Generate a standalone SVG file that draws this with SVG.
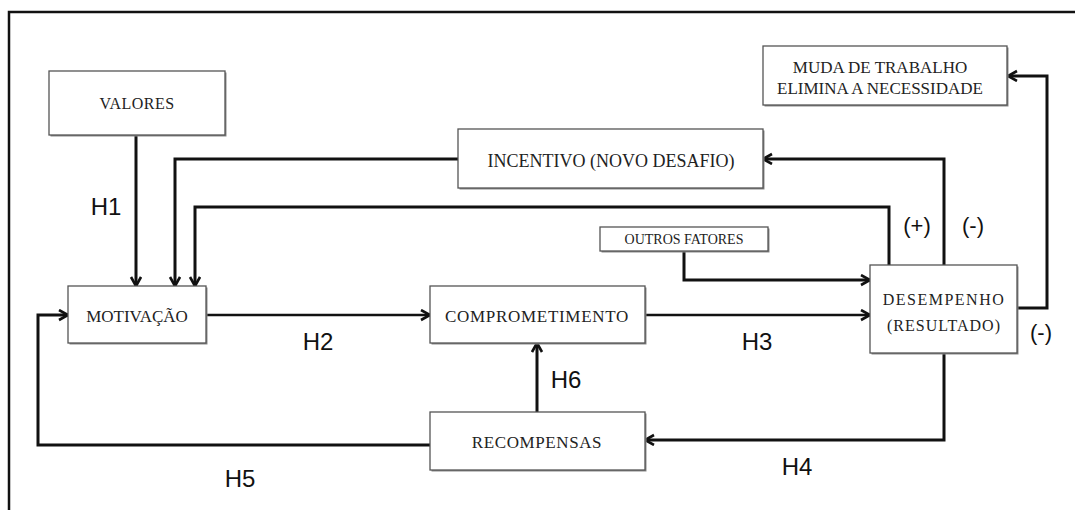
<svg xmlns="http://www.w3.org/2000/svg" width="1075" height="510" viewBox="0 0 1075 510">
  <style>
    .frame { fill: none; stroke: #111; stroke-width: 2.5; }
    .box { fill: #fff; stroke: #555; stroke-width: 1.3; }
    .shadow { fill: #8a8a8a; }
    .lbl { font-family: "Liberation Serif", "Times New Roman", serif; fill: #222; text-anchor: middle; }
    .hyp { font-family: "Liberation Sans", Arial, sans-serif; font-size: 24px; fill: #111; text-anchor: middle; }
    .sign { font-family: "Liberation Sans", Arial, sans-serif; font-size: 22px; fill: #111; text-anchor: middle; }
    .wire { fill: none; stroke: #111; stroke-width: 3; stroke-linejoin: miter; }
    .thin { stroke-width: 2.5; }
  </style>
  <defs>
    <marker id="arrow" markerUnits="userSpaceOnUse" markerWidth="14" markerHeight="14" refX="10" refY="6" orient="auto">
      <path d="M1,1 L10,6 L1,11" fill="none" stroke="#111" stroke-width="2.6"/>
    </marker>
  </defs>

  <rect width="1075" height="510" fill="#fff"/>

  <!-- outer frame (left and top edges) -->
  <path class="frame" d="M9,510 V12 H1075"/>

  <!-- connectors -->
  <g id="connectors">
    <path class="wire" d="M136,135 V286" marker-end="url(#arrow)"/>
    <path class="wire" d="M458,159 H175 V286" marker-end="url(#arrow)"/>
    <path class="wire" d="M944,265 V159 H763" marker-end="url(#arrow)"/>
    <path class="wire" d="M889,265 V207 H195 V286" marker-end="url(#arrow)"/>
    <path class="wire" d="M1017,308 H1047 V76 H1008" marker-end="url(#arrow)"/>
    <path class="wire" d="M684,251 V280 H870" marker-end="url(#arrow)"/>
    <path class="wire thin" d="M206,315 H430" marker-end="url(#arrow)"/>
    <path class="wire thin" d="M645,315 H870" marker-end="url(#arrow)"/>
    <path class="wire" d="M944,353 V440 H645" marker-end="url(#arrow)"/>
    <path class="wire" d="M430,445 H38 V315 H68" marker-end="url(#arrow)"/>
    <path class="wire" d="M537,412 V343" marker-end="url(#arrow)"/>
  </g>

  <!-- hypothesis and sign labels -->
  <g id="labels">
    <text class="hyp" x="106" y="215">H1</text>
    <text class="hyp" x="318" y="350">H2</text>
    <text class="hyp" x="757" y="350">H3</text>
    <text class="hyp" x="797" y="475">H4</text>
    <text class="hyp" x="240" y="487">H5</text>
    <text class="hyp" x="566" y="388">H6</text>
    <text class="sign" x="917" y="233">(+)</text>
    <text class="sign" x="973" y="233">(-)</text>
    <text class="sign" x="1041" y="340">(-)</text>
  </g>

  <g id="valores">
    <rect class="shadow" x="50.5" y="72.5" width="176" height="64"/>
    <rect class="box" x="49" y="71" width="176" height="64"/>
    <text class="lbl" x="137" y="109" font-size="16" letter-spacing="0.5">VALORES</text>
  </g>

  <g id="incentivo">
    <rect class="shadow" x="459.5" y="130.5" width="305" height="59"/>
    <rect class="box" x="458" y="129" width="305" height="59"/>
    <text class="lbl" x="611" y="167" font-size="18">INCENTIVO (NOVO DESAFIO)</text>
  </g>

  <g id="muda">
    <rect class="shadow" x="764.5" y="47.5" width="244" height="59"/>
    <rect class="box" x="763" y="46" width="244" height="59"/>
    <text class="lbl" x="880" y="73" font-size="17">MUDA DE TRABALHO</text>
    <text class="lbl" x="880" y="94" font-size="17">ELIMINA A NECESSIDADE</text>
  </g>

  <g id="outros">
    <rect class="shadow" x="601.5" y="228.5" width="168" height="24"/>
    <rect class="box" x="600" y="227" width="168" height="24"/>
    <text class="lbl" x="684" y="244" font-size="14">OUTROS FATORES</text>
  </g>

  <g id="motivacao">
    <rect class="shadow" x="69.5" y="287.5" width="138" height="57"/>
    <rect class="box" x="68" y="286" width="138" height="57"/>
    <text class="lbl" x="137" y="322" font-size="17">MOTIVAÇÃO</text>
  </g>

  <g id="comprometimento">
    <rect class="shadow" x="431.5" y="287.5" width="215" height="57"/>
    <rect class="box" x="430" y="286" width="215" height="57"/>
    <text class="lbl" x="537" y="322" font-size="17" letter-spacing="0.7">COMPROMETIMENTO</text>
  </g>

  <g id="desempenho">
    <rect class="shadow" x="871.5" y="266.5" width="147" height="88"/>
    <rect class="box" x="870" y="265" width="147" height="88"/>
    <text class="lbl" x="944" y="305" font-size="16" fill="#111" letter-spacing="1.5">DESEMPENHO</text>
    <text class="lbl" x="944" y="331" font-size="16" fill="#111" letter-spacing="1">(RESULTADO)</text>
  </g>

  <g id="recompensas">
    <rect class="shadow" x="431.5" y="413.5" width="215" height="58"/>
    <rect class="box" x="430" y="412" width="215" height="58"/>
    <text class="lbl" x="537" y="448" font-size="17" letter-spacing="0.6">RECOMPENSAS</text>
  </g>
</svg>
